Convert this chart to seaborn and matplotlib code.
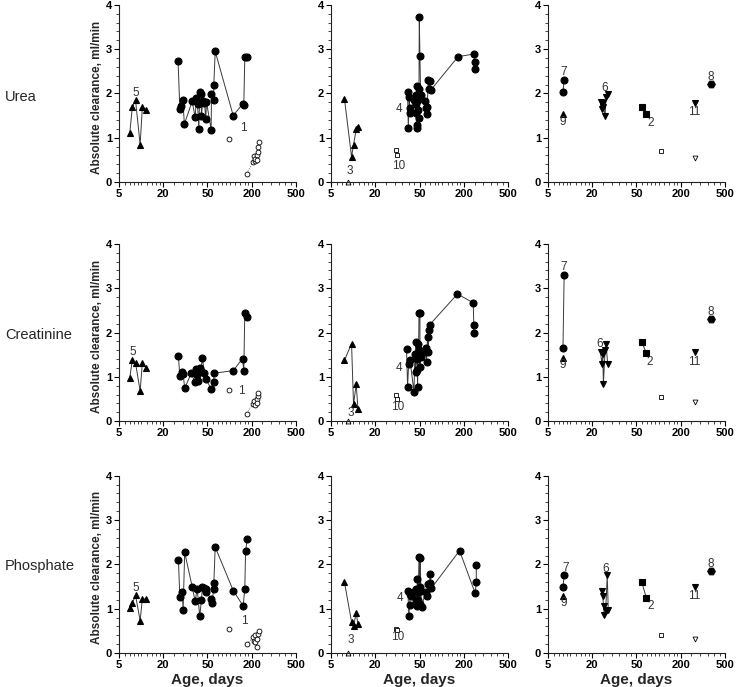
import numpy as np
import matplotlib
matplotlib.use('Agg')
import matplotlib.pyplot as plt
import matplotlib.ticker as mticker
import seaborn as sns

# ---- data (age in days, absolute clearance in ml/min) ----
rows = ['Urea', 'Creatinine', 'Phosphate']

# column 1: patient 5 (filled triangles), patient 1 (filled circles, open circles)
age_p5 = [7.0, 7.6, 8.4, 9.7, 10.4, 11.8]
p5_vals = [[1.10, 1.69, 1.85, 0.84, 1.69, 1.63],
           [0.97, 1.38, 1.31, 0.68, 1.31, 1.19],
           [1.01, 1.13, 1.30, 0.73, 1.22, 1.22]]

age_p1 = [[27.2, 28.2, 29.0, 30.0, 31.0, 36.4, 38.7, 39.8, 40.7, 41.8, 42.6, 43.9, 44.1, 45.4,
           47.0, 48.3, 49.0, 56.1, 56.7, 60.4, 61.0, 63.7, 112, 150, 156, 161, 172],
          [27.4, 28.2, 29.2, 30.2, 31.2, 35.7, 38.5, 39.8, 40.4, 41.5, 42.6, 43.5, 45.1, 46.7,
           48.3, 56.1, 61.0, 61.0, 112, 150, 156, 161, 172],
          [27.4, 28.2, 29.6, 30.2, 31.2, 36.4, 38.7, 40.4, 42.6, 44.1, 45.1, 46.4, 48.0, 49.0,
           56.1, 57.3, 61.0, 61.0, 63.7, 112, 153, 161, 165, 174]]
p1_vals = [[2.73, 1.65, 1.72, 1.85, 1.31, 1.82, 1.47, 1.89, 1.76, 1.19, 2.04, 1.99, 1.50, 1.82,
            1.79, 1.42, 1.81, 1.18, 1.98, 1.85, 2.19, 2.95, 1.50, 1.76, 1.74, 2.82, 2.83],
           [1.46, 1.02, 1.12, 1.07, 0.74, 1.08, 0.88, 1.18, 1.05, 0.90, 1.21, 1.14, 1.43, 1.08,
            0.95, 0.73, 0.88, 1.08, 1.14, 1.41, 1.14, 2.44, 2.35],
           [2.10, 1.26, 1.37, 0.98, 2.27, 1.50, 1.17, 1.45, 0.83, 1.19, 1.49, 1.46, 1.45, 1.37,
            1.22, 1.13, 1.45, 1.58, 2.39, 1.41, 1.06, 1.45, 2.31, 2.57]]

age_p1_single = [99.5, 99.5, 97]
p1_single = [0.98, 0.70, 0.55]
age_p1_open = [[170, 206, 211, 214, 216, 221, 225, 228, 230, 232],
               [170, 206, 211, 216, 221, 225, 228, 230],
               [170, 206, 211, 214, 216, 221, 225, 228, 232]]
p1_open = [[0.19, 0.45, 0.58, 0.48, 0.52, 0.62, 0.50, 0.68, 0.80, 0.90],
           [0.17, 0.39, 0.45, 0.37, 0.50, 0.40, 0.56, 0.63],
           [0.20, 0.35, 0.28, 0.40, 0.25, 0.14, 0.31, 0.42, 0.50]]

# column 2: patient 3 (triangles), patient 10 (open squares), patient 4 (filled circles)
age_p3 = [7.6, 9.5, 10.1, 11.0, 11.6]
p3_vals = [[1.88, 0.57, 0.84, 1.19, 1.25],
           [1.37, 1.75, 0.38, 0.83, 0.28],
           [1.60, 0.70, 0.62, 0.90, 0.65]]
age_p3_open = [8.4]
p3_open = [0.0]

age_p10 = [30.7, 31.6]
p10_vals = [[0.72, 0.62], [0.60, 0.49], [0.55, 0.53]]

age_p4 = [[39.0, 39.6, 40.4, 40.7, 41.2, 44.8, 46.1, 46.4, 46.4, 47.0, 47.3, 47.7, 48.0, 48.7,
           49.0, 49.4, 49.7, 50.6, 51.6, 59.0, 61.0, 62.2, 63.6, 65.6, 67.0, 69.1, 71.3, 167,
           248, 250, 252],
          [38.2, 39.0, 39.9, 41.0, 44.5, 45.4, 46.1, 46.4, 47.0, 47.7, 48.0, 48.7, 49.0, 49.4,
           50.6, 50.6, 51.6, 59.0, 61.0, 62.2, 64.2, 65.6, 66.3, 69.1, 164, 243, 246, 246],
          [39.3, 40.0, 40.7, 41.2, 42.1, 45.1, 46.0, 46.7, 47.3, 47.7, 48.3, 48.7, 49.4, 50.0,
           50.6, 51.1, 52.1, 53.2, 60.4, 62.9, 64.3, 68.4, 70.0, 72.2, 175, 253, 259, 259]]
p4_vals = [[2.03, 1.23, 1.91, 1.66, 1.55, 1.85, 1.97, 1.76, 1.55, 1.23, 2.17, 1.29, 1.85, 1.63,
            1.44, 2.11, 3.72, 2.85, 1.97, 1.84, 1.66, 1.53, 1.70, 2.30, 2.09, 2.28, 2.08, 2.83,
            2.89, 2.70, 2.55],
           [1.62, 0.77, 1.30, 1.39, 0.66, 1.52, 1.11, 1.79, 1.41, 1.16, 0.77, 1.75, 1.60, 2.43,
            2.43, 1.22, 1.45, 1.56, 1.64, 1.34, 1.90, 1.56, 2.05, 2.18, 2.87, 2.67, 2.17, 1.99],
           [1.41, 0.83, 1.09, 1.34, 1.28, 1.41, 1.19, 1.45, 1.06, 1.67, 1.19, 1.37, 2.16, 1.50,
            1.10, 2.15, 1.39, 1.04, 1.37, 1.28, 1.56, 1.58, 1.79, 1.46, 2.31, 1.35, 1.60, 1.99]]

# column 3: patients 7, 9, 6, 2, 11, 8 plus two open symbols
age_p7 = [8.0, 8.3]
p7_vals = [[2.03, 2.31], [1.65, 3.30], [1.48, 1.76]]
age_p9 = [8.0]
p9_vals = [[1.54], [1.43], [1.29]]
age_p6 = [[23.8, 24.4, 24.9, 25.2, 26.1, 26.6, 27.6],
          [23.8, 24.4, 24.9, 25.2, 26.1, 26.6, 27.6],
          [24.3, 24.9, 25.3, 25.7, 26.4, 27.3, 27.9]]
p6_vals = [[1.80, 1.64, 1.78, 1.69, 1.50, 1.91, 1.98],
           [1.55, 1.30, 1.52, 0.83, 1.60, 1.75, 1.28],
           [1.40, 1.28, 1.05, 0.86, 0.94, 1.75, 0.96]]
age_p2 = [59, 68]
p2_vals = [[1.69, 1.54], [1.79, 1.54], [1.60, 1.25]]
age_sq_open = [108]
sq_open = [[0.71], [0.54], [0.40]]
age_p11 = [267]
p11_vals = [[1.79], [1.55], [1.49]]
p11_open = [[0.55], [0.43], [0.32]]
age_p8 = [373]
p8_vals = [[2.21], [2.30], [1.84]]

# patient number labels: (text, age, value)
labels = [
    [[('5', 8.4, 2.02), ('1', 156, 1.23)],
     [('3', 8.9, 0.26), ('10', 32.5, 0.37), ('4', 32.9, 1.64)],
     [('7', 8.3, 2.49), ('9', 7.9, 1.36), ('6', 26.1, 2.13), ('2', 77, 1.34),
      ('11', 264, 1.57), ('8', 373, 2.37)]],
    [[('5', 7.6, 1.55), ('1', 145, 0.68)],
     [('3', 9.2, 0.19), ('10', 31.6, 0.33), ('4', 32.9, 1.21)],
     [('7', 8.3, 3.47), ('9', 8.0, 1.26), ('6', 23.4, 1.75), ('2', 76, 1.34),
      ('11', 264, 1.34), ('8', 373, 2.47)]],
    [[('5', 8.4, 1.47), ('1', 157, 0.72)],
     [('3', 9.2, 0.29), ('10', 31.9, 0.36), ('4', 33.4, 1.24)],
     [('7', 8.6, 1.92), ('9', 8.3, 1.13), ('6', 26.4, 1.90), ('2', 78, 1.05),
      ('11', 266, 1.28), ('8', 374, 2.01)]],
]

x_ticks = [5, 20, 50, 200, 500]
x_minor = [6, 7, 8, 9, 10, 12, 14, 16, 18, 25, 30, 35, 40, 45,
           60, 70, 80, 90, 100, 120, 140, 160, 180, 250, 300, 350, 400, 450]

# piecewise log axis: the labelled ticks are equally spaced
log_ticks = np.log10(x_ticks)
tick_pos = np.arange(len(x_ticks), dtype=float)


def fwd(x):
    x = np.clip(np.asarray(x, dtype=float), 1e-6, None)
    return np.interp(np.log10(x), log_ticks, tick_pos)


def inv(p):
    return 10 ** np.interp(np.asarray(p, dtype=float), tick_pos, log_ticks)


sns.set_style('ticks')
plt.rcParams['font.family'] = ['Liberation Sans', 'DejaVu Sans']

fig = plt.figure(figsize=(7.39, 6.87), dpi=100)
lefts = [0.161, 0.448, 0.7415]
bottoms = [0.735, 0.387, 0.0495]
w, h = 0.2395, 0.258

line_kw = dict(sort=False, estimator=None, color='#3a3a3a', lw=0.7)


def draw(ax, x, y, marker, ms, filled=True, dashed=False):
    kw = dict(line_kw)
    if dashed:
        kw['linestyle'] = (0, (1.5, 1.5))
        kw['color'] = '#777777'
        kw['lw'] = 0.6
    sns.lineplot(x=x, y=y, ax=ax, marker=marker, markersize=ms,
                 markerfacecolor='black' if filled else 'white',
                 markeredgecolor='black', markeredgewidth=0.6 if not filled else 0.8,
                 clip_on=False, **kw)


row_label_y = [0.859, 0.512, 0.176]

for r, name in enumerate(rows):
    axes = [fig.add_axes([lefts[c], bottoms[r], w, h]) for c in range(3)]
    a1, a2, a3 = axes

    # column 1
    draw(a1, age_p5, p5_vals[r], '^', 4.5)
    draw(a1, age_p1[r], p1_vals[r], 'o', 5)
    draw(a1, [age_p1_single[r]], [p1_single[r]], 'o', 3.5, filled=False)
    draw(a1, age_p1_open[r], p1_open[r], 'o', 3.5, filled=False, dashed=True)

    # column 2
    draw(a2, age_p3, p3_vals[r], '^', 4.5)
    draw(a2, age_p3_open, p3_open, '^', 3.5, filled=False)
    draw(a2, age_p10, p10_vals[r], 's', 3.5, filled=False)
    draw(a2, age_p4[r], p4_vals[r], 'o', 5)

    # column 3
    draw(a3, age_p7, p7_vals[r], 'o', 5)
    draw(a3, age_p9, p9_vals[r], '^', 4)
    draw(a3, age_p6[r], p6_vals[r], 'v', 4.5)
    draw(a3, age_p2, p2_vals[r], 's', 5)
    draw(a3, age_sq_open, sq_open[r], 's', 3.5, filled=False)
    draw(a3, age_p11, p11_vals[r], 'v', 4.5)
    draw(a3, age_p11, p11_open[r], 'v', 3.5, filled=False)
    draw(a3, age_p8, p8_vals[r], 'H', 5.5)

    for c, ax in enumerate(axes):
        ax.set_xscale('function', functions=(fwd, inv))
        ax.set_xlim(5, 500)
        ax.set_ylim(0, 4)
        ax.xaxis.set_major_locator(mticker.FixedLocator(x_ticks))
        ax.xaxis.set_major_formatter(mticker.FixedFormatter([str(t) for t in x_ticks]))
        ax.xaxis.set_minor_locator(mticker.FixedLocator(x_minor))
        ax.xaxis.set_minor_formatter(mticker.NullFormatter())
        ax.yaxis.set_major_locator(mticker.MultipleLocator(1))
        ax.yaxis.set_minor_locator(mticker.MultipleLocator(0.2))
        ax.tick_params(which='major', length=3.5, width=0.8, pad=1.5,
                       labelsize=8, colors='black')
        ax.tick_params(which='minor', length=2, width=0.6)
        for lab in ax.get_xticklabels() + ax.get_yticklabels():
            lab.set_fontweight('bold')
        sns.despine(ax=ax)
        for s in ['left', 'bottom']:
            ax.spines[s].set_linewidth(0.8)
            ax.spines[s].set_color('#222222')
        ax.set_xlabel('')
        ax.set_ylabel('')
        for txt, lx, ly in labels[r][c]:
            ax.text(lx, ly, txt, fontsize=8.5, color='#333333',
                    ha='center', va='center')
        if r == 2:
            ax.set_xlabel('Age, days', fontsize=11, fontweight='bold', labelpad=2)

    a1.set_ylabel('Absolute clearance, ml/min', fontsize=8.5, fontweight='bold')
    a1.yaxis.set_label_coords(-0.09, 0.48)
    fig.text(0.007, row_label_y[r], name, fontsize=10.5, ha='left', va='center')

fig.savefig('out.png', dpi=100)
